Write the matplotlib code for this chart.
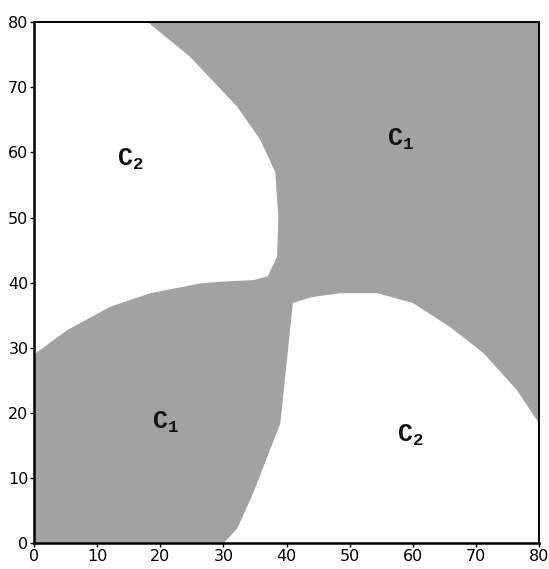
import matplotlib
matplotlib.use('Agg')
import matplotlib.pyplot as plt
from matplotlib.patches import Polygon

plt.rcParams['mathtext.fontset'] = 'custom'
plt.rcParams['mathtext.rm'] = 'Liberation Mono:bold'
plt.rcParams['mathtext.it'] = 'Liberation Mono:bold'
plt.rcParams['mathtext.bf'] = 'Liberation Mono:bold'

# white (C2) region in the upper left, boundary
upper_left_x = [0, 18, 24.7, 32.2, 35.8, 38.2, 38.7, 38.5, 37.0, 34.7, 30.0, 26.3, 18.4, 12.0, 5.2, 0]
upper_left_y = [80, 80, 74.7, 67.0, 62.0, 57.0, 50.0, 44.0, 41.0, 40.4, 40.2, 39.9, 38.4, 36.3, 32.7, 29.0]

# white (C2) region in the lower right
lower_right_x = [30.0, 32.2, 34.7, 39.0, 40.0, 41.0, 44.0, 48.5, 54.4, 60.0, 65.9, 71.2, 76.5, 80, 80]
lower_right_y = [0, 2.3, 7.7, 18.4, 27.6, 36.9, 37.8, 38.4, 38.4, 36.9, 33.2, 29.2, 23.5, 18.4, 0]

# class labels
label_text = [r'$\mathrm{C}_2$', r'$\mathrm{C}_1$', r'$\mathrm{C}_1$', r'$\mathrm{C}_2$']
label_x = [15.2, 58.0, 20.8, 59.6]
label_y = [59.0, 62.0, 18.6, 16.6]

ticks = [0, 10, 20, 30, 40, 50, 60, 70, 80]

fig = plt.figure(figsize=(5.49, 5.69), dpi=100)
ax = fig.add_axes([0.062, 0.045, 0.92, 0.916])
ax.set_facecolor('#a2a2a2')

for xs, ys in [(upper_left_x, upper_left_y), (lower_right_x, lower_right_y)]:
    ax.add_patch(Polygon(list(zip(xs, ys)), closed=True, facecolor='white', edgecolor='none'))

for t, x, y in zip(label_text, label_x, label_y):
    ax.text(x, y, t, fontsize=18, ha='center', va='center', color='#111111')

ax.set_xlim(0, 80)
ax.set_ylim(0, 80)
ax.set_xticks(ticks)
ax.set_yticks(ticks)
ax.tick_params(direction='out', length=3, width=1, labelsize=11.5, pad=1)
for s in ax.spines.values():
    s.set_linewidth(1.4)
ax.spines['left'].set_linewidth(1.8)
ax.spines['bottom'].set_linewidth(1.8)

plt.savefig('out.png', dpi=100)
